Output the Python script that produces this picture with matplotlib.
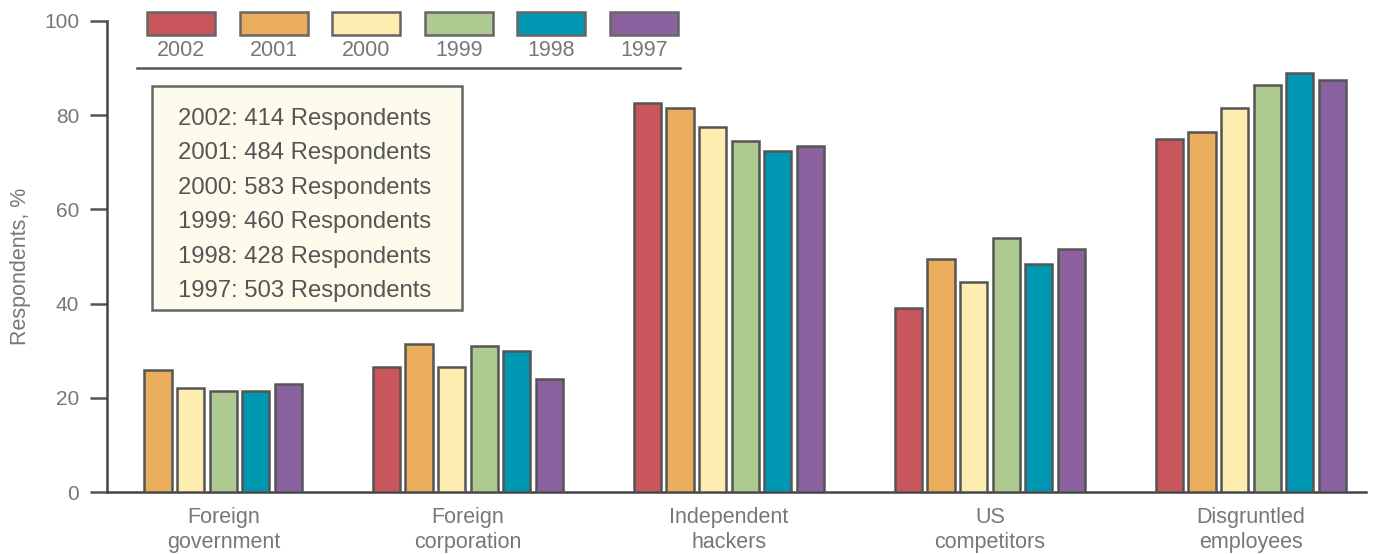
import numpy as np
import matplotlib
matplotlib.use("Agg")
import matplotlib.pyplot as plt
from matplotlib.patches import Rectangle

plt.rcParams["font.family"] = ["Liberation Sans", "DejaVu Sans"]

categories = ["Foreign\ngovernment", "Foreign\ncorporation", "Independent\nhackers",
              "US\ncompetitors", "Disgruntled\nemployees"]
years = ["2002", "2001", "2000", "1999", "1998", "1997"]
respondents = [414, 484, 583, 460, 428, 503]

# percent of respondents, one list per year (nan = not asked)
v2002 = [np.nan, 26.5, 82.5, 39, 75]
v2001 = [26, 31.5, 81.5, 49.5, 76.5]
v2000 = [22, 26.5, 77.5, 44.5, 81.5]
v1999 = [21.5, 31, 74.5, 54, 86.5]
v1998 = [21.5, 30, 72.5, 48.5, 89]
v1997 = [23, 24, 73.5, 51.5, 87.5]
series = [v2002, v2001, v2000, v1999, v1998, v1997]

colors = ["#c9565d", "#e9ad5b", "#fdedb0", "#afca91", "#0097b2", "#8a62a0"]
edge = "#555555"
grey_txt = "#777777"

W, H = 1374, 554
fig = plt.figure(figsize=(W / 100, H / 100), dpi=100)
ax = fig.add_axes([107 / W, 1 - 492 / H, (1366 - 107) / W, (492 - 21) / H])

x = np.arange(len(categories))
pitch = 0.125
width = 0.104
for i, (vals, c) in enumerate(zip(series, colors)):
    ax.bar(x + (i - 2.5) * pitch, vals, width=width, color=c,
           edgecolor=edge, linewidth=1.8, zorder=3)

# center each category label over the bars that are present
label_pos = []
for g in range(len(categories)):
    offs = [(i - 2.5) * pitch for i, s in enumerate(series) if not np.isnan(s[g])]
    label_pos.append(g + np.mean(offs))

ax.set_xlim(-0.383, -0.383 + (1366 - 107) / 261)
ax.set_ylim(0, 100)
ax.set_yticks([0, 20, 40, 60, 80, 100])
ax.set_xticks(label_pos)
ax.set_xticklabels(categories, fontsize=15.5, color=grey_txt, linespacing=1.25)
ax.tick_params(axis="x", length=0, pad=11)
ax.tick_params(axis="y", length=12, width=1.8, color="#555555",
               labelsize=15, labelcolor=grey_txt, pad=8)
for s in ["top", "right"]:
    ax.spines[s].set_visible(False)
ax.spines["left"].set_color("#444444")
ax.spines["left"].set_linewidth(1.8)
ax.spines["bottom"].set_color("#444444")
ax.spines["bottom"].set_linewidth(1.8)
ax.set_ylabel("Respondents, %", fontsize=15.5, color=grey_txt)
ax.yaxis.set_label_coords(-0.060, 0.48)

# legend across the top
bx0, bw, bh, bstep = 147, 68, 23, 92.6
for i, (yr, c) in enumerate(zip(years, colors)):
    left = bx0 + i * bstep
    fig.patches.append(Rectangle((left / W, 1 - 35 / H), bw / W, bh / H,
                                 transform=fig.transFigure, facecolor=c,
                                 edgecolor="#666666", linewidth=1.8))
    fig.text((left + bw / 2) / W, 1 - 50 / H, yr, ha="center", va="center",
             fontsize=15.5, color=grey_txt)
fig.add_artist(plt.Line2D([137 / W, 680 / W], [1 - 68 / H, 1 - 68 / H],
                          transform=fig.transFigure, color="#555555", linewidth=1.8))

# respondents box
fig.patches.append(Rectangle((152 / W, 1 - 310 / H), 310 / W, 224 / H,
                             transform=fig.transFigure, facecolor="#fdfbec",
                             edgecolor="#666666", linewidth=1.8, zorder=5))
for i, (yr, n) in enumerate(zip(years, respondents)):
    fig.text(178 / W, 1 - (119 + i * 34.4) / H, f"{yr}: {n} Respondents",
             ha="left", va="center", fontsize=17.2, color="#555555", zorder=6)

fig.savefig("out.png", dpi=100)
